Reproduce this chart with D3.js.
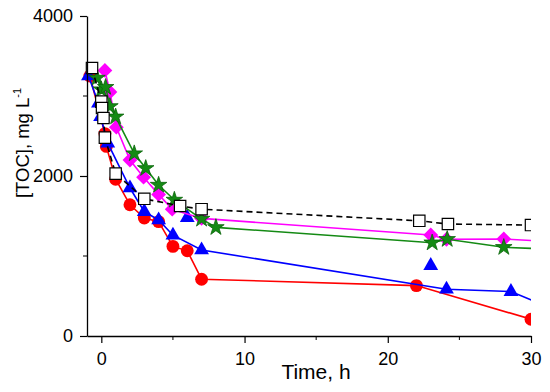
<!DOCTYPE html>
<html><head><meta charset="utf-8">
<script src="https://cdn.jsdelivr.net/npm/d3@7/dist/d3.min.js"></script>
<style>body{margin:0;background:#fff}svg{display:block}text{font-family:"Liberation Sans",Arial,sans-serif;fill:#000}</style>
</head><body><svg id="c" width="550" height="392"></svg>
<script>
// ---- data ----
const redT = [-0.8, 0.25, 0.35, 1.0, 2.0, 3.0, 4.0, 5.0, 6.0, 7.0, 22.0, 30.0];
const redV = [3250, 2530, 2370, 1960, 1640, 1475, 1430, 1120, 1065, 710, 630, 210];
const blueT = [-0.9, -0.2, -0.05, 0.45, 2.0, 3.0, 4.0, 5.0, 7.0, 24.1, 28.6, 31.5];
const blueV = [3250, 2910, 2740, 2410, 1850, 1555, 1450, 1260, 1075, 585, 555, 340];
const blueExtraT = [6.0, 23.0];
const blueExtraV = [1480, 880];
const magT = [0.25, 0.6, 1.05, 2.0, 2.95, 4.0, 4.95, 7.0, 23.0, 24.1, 28.1, 32.0];
const magV = [3320, 3050, 2610, 2200, 1985, 1770, 1585, 1470, 1262, 1209, 1212, 1175];
const grnT = [-0.3, 0.0, 0.3, 0.6, 1.0, 2.3, 3.1, 4.0, 5.1, 7.0, 8.0, 23.1, 24.15, 28.1, 32.0];
const grnV = [3225, 3080, 3110, 2870, 2740, 2280, 2096, 1887, 1700, 1462, 1358, 1166, 1209, 1109, 1082];
const sqT = [-0.65, 0.0, 0.05, 0.15, 0.25, 1.0, 3.0, 5.5, 7.0, 22.2, 24.2, 30.0];
const sqV = [3350, 2930, 2850, 2725, 2480, 2030, 1715, 1625, 1585, 1440, 1400, 1387];
const xTicks = [0, 10, 20, 30];
const yTicks = [0, 2000, 4000];

const svg = d3.select("#c");
const x = d3.scaleLinear().domain([-1, 30]).range([87, 531]);
const y = d3.scaleLinear().domain([0, 4000]).range([336, 16]);

svg.append("defs").append("clipPath").attr("id","clip")
  .append("rect").attr("x",0).attr("y",0).attr("width",531).attr("height",392);

const plot = svg.append("g").attr("clip-path","url(#clip)");

function series(T, V, color, opts){
  const pts = T.map((t,i)=>[t, V[i]]);
  if (opts.line !== false) {
    plot.append("path").datum(pts)
      .attr("d", d3.line().x(d=>x(d[0])).y(d=>y(d[1])))
      .attr("fill","none").attr("stroke", opts.lineColor||color)
      .attr("stroke-width", 1.6)
      .attr("stroke-dasharray", opts.dash||null);
  }
  const sym = d3.symbol().type(opts.type).size(opts.size);
  plot.append("g").selectAll("path").data(pts).join("path")
    .attr("d", sym)
    .attr("transform", d=>`translate(${x(d[0])},${y(d[1])})` + (opts.rot?` rotate(${opts.rot})`:""))
    .attr("fill", opts.fill||color)
    .attr("stroke", opts.stroke||"none")
    .attr("stroke-width", opts.sw||1);
}

series(redT, redV, "#ff0000", {type:d3.symbolCircle, size:130});
series(blueT, blueV, "#0000ff", {type:d3.symbolTriangle, size:95});
series(blueExtraT, blueExtraV, "#0000ff", {type:d3.symbolTriangle, size:95, line:false});
series(magT, magV, "#ff00ff", {type:d3.symbolSquare, size:110, rot:45});
series(grnT, grnV, "#148a14", {type:d3.symbolStar, size:85, stroke:"#0b650b", sw:0.8});
series(sqT, sqV, "#000000", {type:d3.symbolSquare, size:130, fill:"#fff", stroke:"#000", sw:1.2, dash:"6,4"});

// axes
const fmt = d3.format("d");
const xAxis = d3.axisBottom(x).tickValues(xTicks).tickFormat(fmt).tickSize(7).tickSizeOuter(0).tickPadding(9);
const gx = svg.append("g").attr("transform","translate(0,336)").call(xAxis);
gx.append("g").selectAll("line").data([5,15,25]).join("line")
  .attr("x1",d=>x(d)).attr("x2",d=>x(d)).attr("y1",0).attr("y2",4).attr("stroke","#000");
const yAxis = d3.axisLeft(y).tickValues(yTicks).tickFormat(fmt).tickSize(7).tickSizeOuter(0).tickPadding(7);
const gy = svg.append("g").attr("transform","translate(87,0)").call(yAxis);
gy.append("g").selectAll("line").data([1000,3000]).join("line")
  .attr("y1",d=>y(d)).attr("y2",d=>y(d)).attr("x1",0).attr("x2",-4).attr("stroke","#000");
[gx,gy].forEach(g=>{
  g.selectAll("path.domain").attr("stroke","#000").attr("stroke-width",1.3);
  g.selectAll(".tick line").attr("stroke","#000").attr("stroke-width",1.2);
  g.selectAll(".tick text").attr("font-size",18).attr("font-family","Liberation Sans, Arial, sans-serif").attr("fill","#000");
});

svg.append("text").attr("x", 316).attr("y", 379).attr("text-anchor","middle")
  .attr("font-size",21).text("Time, h");
const yl = svg.append("text").attr("transform","translate(29,143) rotate(-90)")
  .attr("text-anchor","middle").attr("font-size",18.5);
yl.append("tspan").text("[TOC], mg L");
yl.append("tspan").attr("font-size",11).attr("dy",-8).text("-1");
</script></body></html>
